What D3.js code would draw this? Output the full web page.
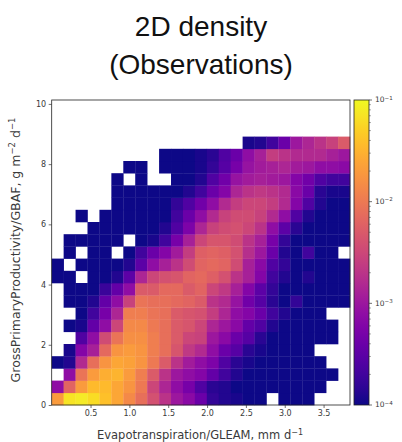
<!DOCTYPE html>
<html><head><meta charset="utf-8">
<script src="https://cdn.jsdelivr.net/npm/d3@7"></script>
<style>body{margin:0;background:#fff}svg{display:block}</style>
</head><body>
<svg id="c" width="402" height="442"></svg>
<script>
// ---- data ----
const titleLines = ["2D density", "(Observations)"];
const xLabel = "Evapotranspiration/GLEAM,  mm d";
const xLabelExp = "\u22121";
const yLabelParts = ["GrossPrimaryProductivity/GBAF,  g m", "\u22122", " d", "\u22121"];
const xTicks = [0.5, 1.0, 1.5, 2.0, 2.5, 3.0, 3.5];
const yTicks = [0, 2, 4, 6, 8, 10];
const cbTicks = [1e-4, 1e-3, 1e-2, 1e-1];
const cbExps = ["\u22124", "\u22123", "\u22122", "\u22121"];
const xDomain = [0, 3.84];
const yDomain = [0, 10.13];
const nBinsX = 25, nBinsY = 25;
// log10(density) per bin; row00 is the lowest row, column 0 is the leftmost; null = empty bin
const row00 = [-1.7,-1.15,-1.1,-1.2,-1.4,-1.6,-1.85,-2.1,-2.4,-2.7,-3.0,-3.15,-3.4,-3.8,-3.9,-3.95,-4,-4,null,-4,-4,-4,null,null,null];
const row01 = [-3.1,-2.2,-1.7,-1.45,-1.45,-1.6,-1.75,-2.0,-2.5,-2.85,-3.1,-3.3,-3.6,-3.85,-3.9,-4,-4,-4,-4,-4,-4,-4,-4,null,null];
const row02 = [null,-3.1,-2.05,-1.7,-1.55,-1.5,-1.7,-1.95,-2.3,-2.7,-3.0,-3.1,-3.2,-3.45,-3.7,-3.9,-4,-4,-4,-4,-4,-4,-4,-4,null];
const row03 = [-4,-3.9,-2.8,-2.1,-1.75,-1.6,-1.65,-1.75,-2.0,-2.3,-2.7,-2.95,-3.1,-3.25,-3.6,-3.85,-3.95,-4,-4,-4,-4,-4,-4,null,null];
const row04 = [null,-3.95,-3.2,-2.9,-2.15,-1.75,-1.7,-1.75,-1.95,-2.1,-2.35,-2.65,-2.8,-3.1,-3.4,-3.55,-3.85,-3.95,-4,-4,-4,-4,null,null,null];
const row05 = [null,null,-3.6,-3.1,-2.45,-2.05,-1.8,-1.8,-1.95,-2.1,-2.3,-2.5,-2.55,-3.0,-3.15,-3.4,-3.55,-3.85,-4,-4,-4,-4,-4,-4,null];
const row06 = [null,-4,-3.95,-3.45,-3.1,-2.5,-1.85,-1.85,-2.0,-2.1,-2.3,-2.35,-2.5,-2.85,-3.0,-3.15,-3.45,-3.6,-3.9,-4,-4,-4,-4,-4,null];
const row07 = [null,null,-4,-3.7,-3.3,-2.85,-1.95,-1.95,-2.05,-2.1,-2.3,-2.35,-2.4,-2.6,-2.85,-3.1,-3.2,-3.4,-3.7,-3.9,-4,-4,-4,null,null];
const row08 = [null,-4,-4,-3.9,-3.45,-3.1,-2.55,-2.05,-2.1,-2.1,-2.15,-2.2,-2.3,-2.7,-2.8,-3.05,-3.35,-3.55,-3.85,-4,-3.8,-4,-4,-4,-4];
const row09 = [null,-4,-4,-4,-3.75,-3.45,-3.1,-2.3,-2.3,-2.15,-2.15,-2.3,-2.2,-2.5,-2.65,-2.9,-3.2,-3.5,-3.8,-4,-4,-4,-4,-4,-4];
const row10 = [-4,-4,null,-4,-4,-3.9,-3.5,-2.85,-2.5,-2.4,-2.35,-2.2,-2.15,-2.25,-2.4,-2.7,-2.9,-3.2,-3.7,-3.9,-4,-3.9,-4,-4,-4];
const row11 = [-4,null,-4,-4,-4,-4,-3.9,-3.5,-3.1,-2.9,-2.7,-2.45,-2.2,-2.15,-2.2,-2.45,-2.9,-3.15,-3.6,-3.8,-4,-4,-4,-4,-4];
const row12 = [null,-4,null,-4,-4,null,-4,-3.7,-3.4,-3.2,-2.95,-2.6,-2.25,-2.2,-2.25,-2.4,-2.75,-3.0,-3.4,-3.9,-4,-3.7,-4,-4,null];
const row13 = [null,-4,-4,-4,-4,-4,null,-4,-3.95,-3.7,-3.3,-2.9,-2.5,-2.35,-2.35,-2.45,-2.7,-2.9,-3.3,-3.8,-4,-4,-4,-4,-4];
const row14 = [null,null,null,-4,-4,-4,-4,-4,-4,-3.9,-3.6,-3.25,-2.85,-2.55,-2.45,-2.4,-2.5,-2.7,-3.1,-3.5,-3.85,-4,-4,-4,-4];
const row15 = [null,null,-4,null,-4,-4,-4,-4,-4,-4,-3.7,-3.4,-3.1,-2.8,-2.55,-2.45,-2.45,-2.55,-2.8,-3.1,-3.6,-3.9,-4,-4,-4];
const row16 = [null,null,null,null,null,-4,-4,-4,-4,-4,-3.8,-3.6,-3.35,-3.1,-2.8,-2.6,-2.5,-2.5,-2.6,-2.8,-3.2,-3.6,-3.9,-4,-4];
const row17 = [null,null,null,null,null,-4,-4,-4,-4,-4,-4,-3.9,-3.7,-3.4,-3.2,-2.85,-2.7,-2.65,-2.7,-2.8,-3.15,-3.4,-3.85,-3.95,-3.95];
const row18 = [null,null,null,null,null,-4,null,-4,null,null,-4,-4,-3.9,-3.6,-3.35,-3.05,-2.95,-2.9,-2.95,-3.0,-3.2,-3.35,-3.6,-3.7,-3.7];
const row19 = [null,null,null,null,null,null,-4,-4,null,-4,-4,-4,-3.95,-3.8,-3.55,-3.3,-3.05,-2.95,-2.9,-2.85,-2.95,-3.0,-3.1,-3.1,-3.15];
const row20 = [null,null,null,null,null,null,null,null,null,-4,-4,-4,-3.95,-3.85,-3.6,-3.4,-3.1,-2.9,-2.6,-2.7,-2.8,-2.8,-2.8,-2.9,-3.0];
const row21 = [null,null,null,null,null,null,null,null,null,null,null,null,null,null,null,null,-3.95,-3.9,-3.7,-3.4,-3.0,-2.85,-2.7,-2.55,-2.3];
const rows = [row00,row01,row02,row03,row04,row05,row06,row07,row08,row09,row10,row11,row12,row13,row14,row15,row16,row17,row18,row19,row20,row21];

// ---- layout ----
const svg = d3.select("#c");
const P = {l: 51.7, r: 350, t: 100, b: 405};
const CB = {l: 354, r: 369};
const txt = "#3a3a3a";
const font = "DejaVu Sans, sans-serif";
const tfont = "Liberation Sans, Arial, sans-serif";

const x = d3.scaleLinear().domain(xDomain).range([P.l, P.r]);
const y = d3.scaleLinear().domain(yDomain).range([P.b, P.t]);
const color = d3.scaleSequentialLog(d3.interpolatePlasma).domain([1e-4, 1e-1]).clamp(true);

const bw = (xDomain[1] - xDomain[0]) / nBinsX;
const bh = (yDomain[1] - yDomain[0]) / nBinsY;

const cells = [];
rows.forEach((row, j) => row.forEach((v, i) => { if (v !== null) cells.push({i, j, v}); }));

svg.append("g").selectAll("rect").data(cells).join("rect")
  .attr("x", d => x(xDomain[0] + d.i * bw))
  .attr("y", d => y(yDomain[0] + (d.j + 1) * bh))
  .attr("width", d => x(xDomain[0] + (d.i + 1) * bw) - x(xDomain[0] + d.i * bw) + 0.3)
  .attr("height", d => y(yDomain[0] + d.j * bh) - y(yDomain[0] + (d.j + 1) * bh) + 0.3)
  .attr("fill", d => color(Math.pow(10, d.v)));

// frame
svg.append("rect").attr("x", P.l).attr("y", P.t).attr("width", P.r - P.l).attr("height", P.b - P.t)
  .attr("fill", "none").attr("stroke", "#222").attr("stroke-width", 0.8);

// axes
const xAxis = svg.append("g").attr("transform", `translate(0,${P.b})`)
  .call(d3.axisBottom(x).tickValues(xTicks).tickFormat(d3.format(".1f")).tickSize(3).tickPadding(2.5));
const yAxis = svg.append("g").attr("transform", `translate(${P.l},0)`)
  .call(d3.axisLeft(y).tickValues(yTicks).tickFormat(d3.format("d")).tickSize(3).tickPadding(2.5));
[xAxis, yAxis].forEach(a => {
  a.select(".domain").remove();
  a.selectAll(".tick line").attr("stroke", "#333").attr("stroke-width", 0.7);
  a.selectAll(".tick text").attr("fill", txt).attr("font-size", 8).attr("font-family", font);
});

// colorbar
const defs = svg.append("defs");
const grad = defs.append("linearGradient").attr("id", "cbg").attr("x1", 0).attr("y1", 1).attr("x2", 0).attr("y2", 0);
d3.range(0, 1.0001, 0.05).forEach(t => grad.append("stop").attr("offset", t).attr("stop-color", d3.interpolatePlasma(t)));
const cy = d3.scaleLog().domain([1e-4, 1e-1]).range([P.b, P.t]);
svg.append("rect").attr("x", CB.l).attr("y", P.t).attr("width", CB.r - CB.l).attr("height", P.b - P.t)
  .attr("fill", "url(#cbg)").attr("stroke", "#222").attr("stroke-width", 0.8);
const minor = [];
[1e-4, 1e-3, 1e-2].forEach(d => d3.range(2, 10).forEach(k => minor.push(d * k)));
svg.append("g").selectAll("line").data(minor).join("line")
  .attr("x1", CB.r).attr("x2", CB.r + 1.8).attr("y1", d => cy(d)).attr("y2", d => cy(d))
  .attr("stroke", "#333").attr("stroke-width", 0.5);
const cbg = svg.append("g").selectAll("g").data(cbTicks).join("g")
  .attr("transform", d => `translate(${CB.r},${cy(d)})`);
cbg.append("line").attr("x2", 3).attr("stroke", "#333").attr("stroke-width", 0.7);
const cbt = cbg.append("text").attr("x", 6).attr("dy", "0.32em").attr("fill", txt)
  .attr("font-size", 7.5).attr("font-family", font).text("10");
cbt.append("tspan").attr("dy", "-0.5em").attr("font-size", 5.5).text((d, i) => cbExps[i]);

// titles
svg.append("g").selectAll("text").data(titleLines).join("text")
  .attr("x", 201).attr("y", (d, i) => 36 + i * 38).attr("text-anchor", "middle")
  .attr("font-size", 28).attr("font-family", tfont).attr("fill", "#111").text(d => d);

// axis labels
const xl = svg.append("text").attr("x", 200).attr("y", 439).attr("text-anchor", "middle")
  .attr("font-size", 11.5).attr("font-family", font).attr("fill", txt).text(xLabel);
xl.append("tspan").attr("dy", -4.5).attr("font-size", 8).text(xLabelExp);

const yl = svg.append("text").attr("transform", `translate(20,250) rotate(-90)`)
  .attr("text-anchor", "middle").attr("font-size", 12.5).attr("font-family", font).attr("fill", txt);
yl.append("tspan").text(yLabelParts[0]);
yl.append("tspan").attr("dy", -5).attr("font-size", 8.5).text(yLabelParts[1]);
yl.append("tspan").attr("dy", 5).text(yLabelParts[2]);
yl.append("tspan").attr("dy", -5).attr("font-size", 8.5).text(yLabelParts[3]);
</script>
</body></html>
